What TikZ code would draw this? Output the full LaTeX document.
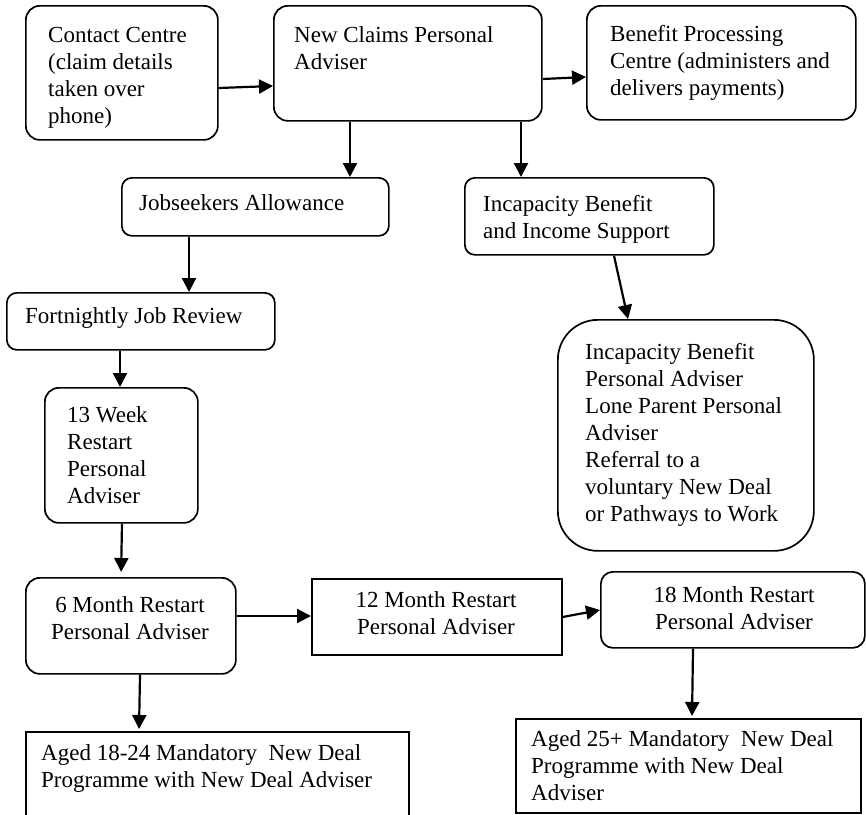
\documentclass[tikz,border=0pt]{standalone}
\usepackage{fontspec}
\setmainfont{Liberation Serif}
\usetikzlibrary{arrows.meta}
\begin{document}
\begin{tikzpicture}[x=1pt,y=-1pt,
  box/.style={draw, line width=1.7pt, rounded corners=14pt, inner sep=0pt, anchor=north west},
  bigbox/.style={box, rounded corners=40pt},
  sqbox/.style={draw, line width=1.7pt, inner sep=0pt, anchor=north west},
  txt/.style={inner sep=0pt, anchor=base west, align=left, font=\fontsize{23}{27}\selectfont},
  ctxt/.style={txt, anchor=base, align=center},
  arr/.style={line width=2.2pt, -{Triangle[length=14pt,width=14pt]}}]
\useasboundingbox (0,0) rectangle (866,814);

% boxes
\node[box, minimum width=192pt, minimum height=134pt] (cc) at (25,5) {};
\node[box, minimum width=268pt, minimum height=115pt] (nc) at (273,5) {};
\node[box, minimum width=269pt, minimum height=114pt] (bp) at (586,5) {};
\node[box, rounded corners=10pt, minimum width=267pt, minimum height=58pt] (ja) at (121,177) {};
\node[box, rounded corners=10pt, minimum width=249pt, minimum height=77pt] (ib) at (464,177) {};
\node[box, rounded corners=10pt, minimum width=268pt, minimum height=57pt] (fj) at (6,292) {};
\node[box, minimum width=153pt, minimum height=135pt] (tw) at (44,387) {};
\node[bigbox, minimum width=256pt, minimum height=231pt] (ibpa) at (557,319) {};
\node[box, minimum width=210pt, minimum height=96pt] (sm) at (25,577) {};
\node[sqbox, minimum width=250pt, minimum height=76pt] (tm) at (311,578) {};
\node[box, rounded corners=12pt, minimum width=264pt, minimum height=76pt] (em) at (600,571) {};
\node[sqbox, minimum width=383pt, minimum height=90pt] (ay) at (25,731) {};
\node[sqbox, minimum width=345pt, minimum height=94pt] (ao) at (515,718) {};

% texts (anchored at the baseline of their last line)
\node[txt] (cct) at (48,123) {Contact Centre\\(claim details\\taken over\\phone)};
\node[txt] (nct) at (294,69) {New Claims Personal\\Adviser};
\node[txt] (bpt) at (610,95) {Benefit Processing\\Centre (administers and\\delivers payments)};
\node[txt] (jat) at (139,210) {Jobseekers Allowance};
\node[txt] (ibt) at (483,238) {Incapacity Benefit\\and Income Support};
\node[txt] (fjt) at (25,323) {Fortnightly Job Review};
\node[txt] (twt) at (67,503) {13 Week\\Restart\\Personal\\Adviser};
\node[txt] (ibpat) at (585,521) {Incapacity Benefit\\Personal Adviser\\Lone Parent Personal\\Adviser\\Referral to a\\voluntary New Deal\\or Pathways to Work};
\node[ctxt] (smt) at (130,639) {6 Month Restart\\Personal Adviser};
\node[ctxt] (tmt) at (436,634) {12 Month Restart\\Personal Adviser};
\node[ctxt] (emt) at (734,629) {18 Month Restart\\Personal Adviser};
\node[txt] (ayt) at (41,787) {Aged 18-24 Mandatory\ \ New Deal\\Programme with New Deal Adviser};
\node[txt] (aot) at (531,800) {Aged 25+ Mandatory\ \ New Deal\\Programme with New Deal\\Adviser};

% connectors
\draw[arr] (cc.east |- 0,88) -- (nc.west |- 0,86);
\draw[arr] (nc.east |- 0,79) -- (bp.west |- 0,77);
\draw[arr] (nc.south -| 350,0) -- (ja.north -| 350,0);
\draw[arr] (nc.south -| 521,0) -- (ib.north -| 521,0);
\draw[arr] (ja.south -| 189,0) -- (fj.north -| 189,0);
\draw[arr] (ib.south -| 614,0) -- (ibpa.north -| 628,0);
\draw[arr] (fj.south -| 120,0) -- (tw.north -| 120,0);
\draw[arr, shorten >=5pt] (tw.south -| 122,0) -- (sm.north -| 121,0);
\draw[arr] (sm.east |- 0,616) -- (tm.west |- 0,616);
\draw[arr] (tm.east |- 0,617) -- (em.west |- 0,610);
\draw[arr, shorten >=2pt] (sm.south -| 140,0) -- (ay.north -| 139,0);
\draw[arr, shorten >=2pt] (em.south -| 693,0) -- (ao.north -| 692,0);
\end{tikzpicture}
\end{document}
